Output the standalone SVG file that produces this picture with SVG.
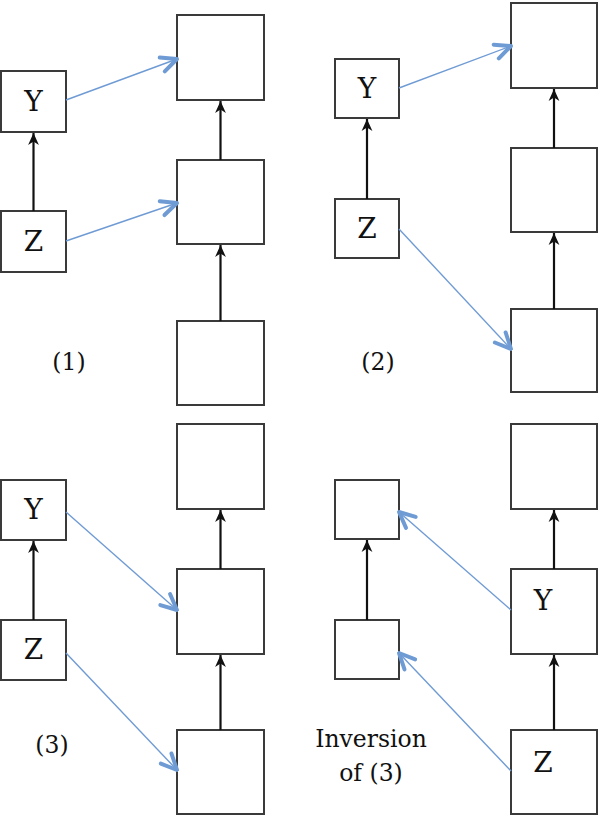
<svg xmlns="http://www.w3.org/2000/svg" width="600" height="817" viewBox="0 0 600 817">
<style>
.box{fill:#fff;stroke:#3a3a3a;stroke-width:2}
text{font-family:'DejaVu Serif','Liberation Serif',serif;fill:#111;text-anchor:middle}
.n{font-size:28px}
.l{font-size:23.5px}
.blk{stroke:#111;stroke-width:2.2;fill:none;marker-end:url(#ahb)}
.blu{stroke:#6f9bd4;stroke-width:1.4;fill:none;marker-end:url(#ahu)}
</style>
<defs>
<marker id="ahb" viewBox="0 0 10 10" refX="10" refY="5" markerWidth="12" markerHeight="12" markerUnits="userSpaceOnUse" orient="auto"><path d="M0,0.5 L10,5 L0,9.5 L3,5 Z" fill="#111"/></marker>
<marker id="ahu" viewBox="0 0 20 20" refX="18" refY="10" markerWidth="21" markerHeight="21" markerUnits="userSpaceOnUse" orient="auto"><path d="M3,3 L18,10 L3,17" fill="none" stroke="#6f9bd4" stroke-width="3.8" stroke-linecap="round" stroke-linejoin="round"/></marker>
</defs>
<rect width="600" height="817" fill="#fff"/>

<!-- Panel 1 -->
<g id="p1-top"><rect class="box" x="177" y="15" width="87" height="85"/></g>
<g id="p1-mid"><rect class="box" x="177" y="160" width="87" height="84"/></g>
<g id="p1-bot"><rect class="box" x="177" y="321" width="87" height="84"/></g>
<g id="p1-Y"><rect class="box" x="1" y="71" width="65" height="61"/><text class="n" x="33.5" y="111">Y</text></g>
<g id="p1-Z"><rect class="box" x="1" y="211" width="65" height="61"/><text class="n" x="33.5" y="251">Z</text></g>
<g id="p1-label"><text class="l" x="69" y="370">(1)</text></g>

<!-- Panel 2 -->
<g id="p2-top"><rect class="box" x="511" y="3" width="86" height="85"/></g>
<g id="p2-mid"><rect class="box" x="511" y="148" width="86" height="84"/></g>
<g id="p2-bot"><rect class="box" x="511" y="309" width="86" height="83"/></g>
<g id="p2-Y"><rect class="box" x="335" y="59" width="64" height="59"/><text class="n" x="367" y="98">Y</text></g>
<g id="p2-Z"><rect class="box" x="335" y="199" width="64" height="59"/><text class="n" x="367" y="238">Z</text></g>
<g id="p2-label"><text class="l" x="378" y="370">(2)</text></g>

<!-- Panel 3 -->
<g id="p3-top"><rect class="box" x="177" y="424" width="87" height="85"/></g>
<g id="p3-mid"><rect class="box" x="177" y="569" width="87" height="85"/></g>
<g id="p3-bot"><rect class="box" x="177" y="730" width="87" height="84"/></g>
<g id="p3-Y"><rect class="box" x="1" y="480" width="65" height="60"/><text class="n" x="33.5" y="519">Y</text></g>
<g id="p3-Z"><rect class="box" x="1" y="620" width="65" height="60"/><text class="n" x="33.5" y="659">Z</text></g>
<g id="p3-label"><text class="l" x="52" y="753">(3)</text></g>

<!-- Panel 4 -->
<g id="p4-top"><rect class="box" x="511" y="424" width="86" height="85"/></g>
<g id="p4-Y"><rect class="box" x="511" y="569" width="86" height="85"/><text class="n" x="543" y="610">Y</text></g>
<g id="p4-Z"><rect class="box" x="511" y="730" width="86" height="84"/><text class="n" x="543" y="772">Z</text></g>
<g id="p4-ltop"><rect class="box" x="335" y="480" width="64" height="59"/></g>
<g id="p4-lbot"><rect class="box" x="335" y="620" width="64" height="59"/></g>
<g id="p4-label"><text class="l" x="371" y="747">Inversion</text><text class="l" x="371" y="781">of (3)</text></g>

<g id="connectors">
<line class="blk" x1="33.5" y1="211" x2="33.5" y2="133"/>
<line class="blk" x1="220.5" y1="160" x2="220.5" y2="101"/>
<line class="blk" x1="220.5" y1="321" x2="220.5" y2="245"/>
<line class="blu" x1="66" y1="100" x2="177" y2="59"/>
<line class="blu" x1="66" y1="241" x2="177" y2="203"/>

<line class="blk" x1="367" y1="199" x2="367" y2="119"/>
<line class="blk" x1="554" y1="148" x2="554" y2="89"/>
<line class="blk" x1="554" y1="309" x2="554" y2="233"/>
<line class="blu" x1="399" y1="88" x2="511" y2="46"/>
<line class="blu" x1="399" y1="229" x2="511" y2="349"/>

<line class="blk" x1="33.5" y1="620" x2="33.5" y2="541"/>
<line class="blk" x1="220.5" y1="569" x2="220.5" y2="510"/>
<line class="blk" x1="220.5" y1="730" x2="220.5" y2="655"/>
<line class="blu" x1="66" y1="512" x2="177" y2="610"/>
<line class="blu" x1="66" y1="653" x2="177" y2="770"/>

<line class="blk" x1="367" y1="620" x2="367" y2="540"/>
<line class="blk" x1="554" y1="569" x2="554" y2="510"/>
<line class="blk" x1="554" y1="730" x2="554" y2="655"/>
<line class="blu" x1="511" y1="610" x2="399" y2="512"/>
<line class="blu" x1="511" y1="771" x2="399" y2="653"/>
</g>
</svg>
